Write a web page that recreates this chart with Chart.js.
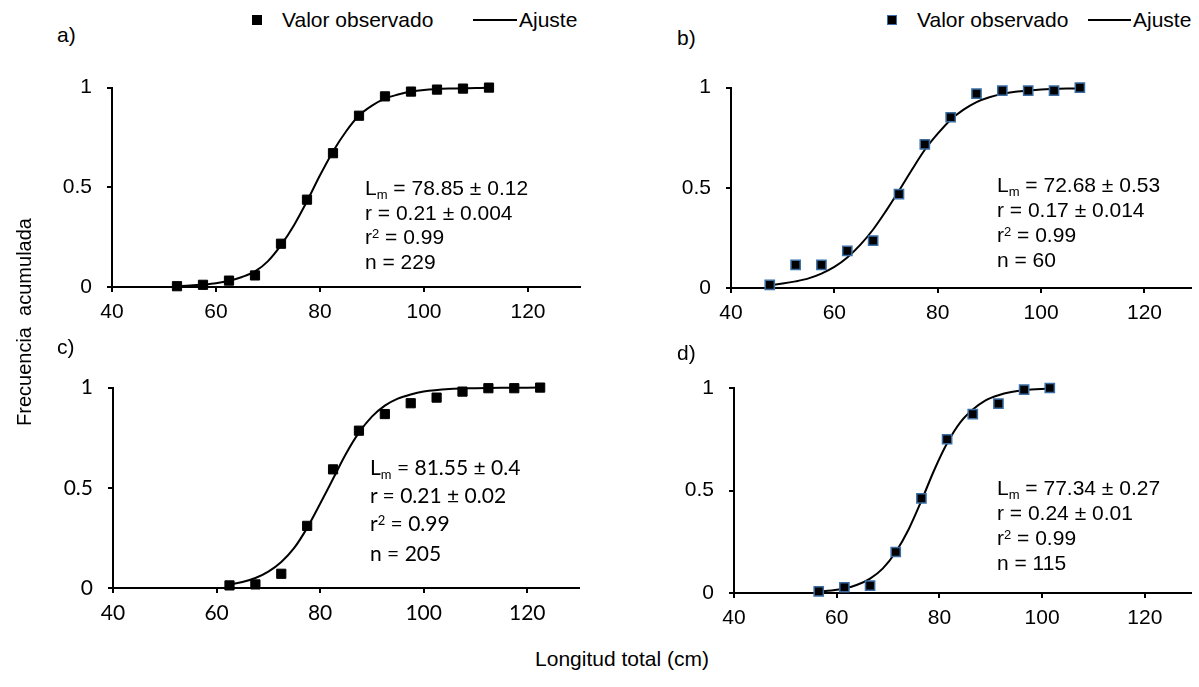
<!DOCTYPE html>
<html>
<head>
<meta charset="utf-8">
<script src="https://cdn.jsdelivr.net/npm/chart.js@4/dist/chart.umd.min.js"></script>
<style>
    body { margin: 0; background: #fff; }
    #fig { position: relative; width: 1199px; height: 687px; overflow: hidden; background: #fff;
           font-family: "Liberation Sans", Arial, sans-serif; font-size: 21px; color: #000; }
    #fig canvas { position: absolute; }
    .txt { position: absolute; white-space: pre; line-height: 24px; }
    .txt sub, .txt sup { font-size: 0.62em; line-height: 0; vertical-align: baseline; position: relative; }
    .txt sub { top: 0.3em; }
    .txt sup { top: -0.5em; }
    .sq { position: absolute; width: 10px; height: 10px; background: #000; box-sizing: border-box; }
    .sq.blue { border: 1.5px solid #3a6ea5; }
    .ln { position: absolute; height: 2px; background: #000; }
    .lato { font-family: Lato, sans-serif; }
</style>
</head>
<body>
<div id="fig">
    <canvas id="chartA" width="600" height="280" style="left:0px;top:60px"></canvas>
    <canvas id="chartB" width="599" height="280" style="left:600px;top:60px"></canvas>
    <canvas id="chartC" width="600" height="280" style="left:0px;top:360px"></canvas>
    <canvas id="chartD" width="599" height="280" style="left:600px;top:360px"></canvas>

    <!-- leyendas -->
    <div class="sq" style="left:252px;top:15px"></div>
    <div class="txt" style="left:282px;top:8px">Valor observado</div>
    <div class="ln" style="left:473px;top:19px;width:44px"></div>
    <div class="txt" style="left:519px;top:8px">Ajuste</div>

    <div class="sq blue" style="left:887px;top:15px"></div>
    <div class="txt" style="left:917px;top:8px">Valor observado</div>
    <div class="ln" style="left:1088px;top:19px;width:43px"></div>
    <div class="txt" style="left:1133px;top:8px">Ajuste</div>

    <!-- etiquetas de panel -->
    <div class="txt" style="left:57px;top:23px">a)</div>
    <div class="txt" style="left:677px;top:26px">b)</div>
    <div class="txt" style="left:57px;top:335px">c)</div>
    <div class="txt" style="left:677px;top:341px">d)</div>

    <!-- parametros del ajuste, a) -->
    <div class="txt" style="left:365px;top:176px">L<sub>m</sub> = 78.85 ± 0.12</div>
    <div class="txt" style="left:365px;top:201px">r = 0.21 ± 0.004</div>
    <div class="txt" style="left:365px;top:225px">r<sup>2</sup> = 0.99</div>
    <div class="txt" style="left:365px;top:250px">n = 229</div>
    <!-- b) -->
    <div class="txt" style="left:997px;top:173px">L<sub>m</sub> = 72.68 ± 0.53</div>
    <div class="txt" style="left:997px;top:198px">r = 0.17 ± 0.014</div>
    <div class="txt" style="left:997px;top:223px">r<sup>2</sup> = 0.99</div>
    <div class="txt" style="left:997px;top:248px">n = 60</div>
    <!-- c) -->
    <div class="txt lato" style="left:370px;top:455px">L<sub>m</sub> = 81.55 ± 0.4</div>
    <div class="txt lato" style="left:370px;top:483px">r = 0.21 ± 0.02</div>
    <div class="txt lato" style="left:370px;top:511px">r<sup>2</sup> = 0.99</div>
    <div class="txt lato" style="left:370px;top:541px">n = 205</div>
    <!-- d) -->
    <div class="txt" style="left:997px;top:476px">L<sub>m</sub> = 77.34 ± 0.27</div>
    <div class="txt" style="left:997px;top:501px">r = 0.24 ± 0.01</div>
    <div class="txt" style="left:997px;top:526px">r<sup>2</sup> = 0.99</div>
    <div class="txt" style="left:997px;top:551px">n = 115</div>

    <!-- titulos de ejes -->
    <div class="txt" style="left:24px;top:322px;font-size:20px;transform:translate(-50%,-50%) rotate(-90deg)">Frecuencia  acumulada</div>
    <div class="txt" style="left:622px;top:659px;transform:translate(-50%,-50%)">Longitud total (cm)</div>
</div>

<script>
// ejes
const xTicks = [40, 60, 80, 100, 120];
const yTicks = [0, 0.5, 1];

// a) valores observados y ajuste
const obsXA = [52.5, 57.5, 62.5, 67.5, 72.5, 77.5, 82.5, 87.5, 92.5, 97.5, 102.5, 107.5, 112.5];
const obsYA = [0.004, 0.011, 0.032, 0.058, 0.217, 0.438, 0.671, 0.859, 0.956, 0.98, 0.99, 0.995, 1.0];
const fitXA = [52.5, 55, 57.5, 60, 62.5, 65, 67.5, 70, 72.5, 75, 77.5, 80, 82.5, 85, 87.5, 90, 92.5, 95, 97.5, 100, 105, 112.5];
const fitYA = [0.004, 0.007, 0.012, 0.019, 0.031, 0.05, 0.078, 0.13, 0.21, 0.31, 0.43, 0.56, 0.68, 0.78, 0.86, 0.91, 0.945, 0.965, 0.98, 0.988, 0.995, 0.999];

// b)
const obsXB = [47.5, 52.5, 57.5, 62.5, 67.5, 72.5, 77.5, 82.5, 87.5, 92.5, 97.5, 102.5, 107.5];
const obsYB = [0.016, 0.115, 0.115, 0.185, 0.236, 0.468, 0.717, 0.852, 0.97, 0.985, 0.985, 0.985, 1.0];
const fitXB = [47.5, 50, 52.5, 55, 57.5, 60, 62.5, 65, 67.5, 70, 72.5, 75, 77.5, 80, 82.5, 85, 87.5, 90, 92.5, 95, 97.5, 100, 107.5];
const fitYB = [0.014, 0.022, 0.033, 0.048, 0.072, 0.105, 0.152, 0.215, 0.292, 0.385, 0.485, 0.59, 0.69, 0.77, 0.84, 0.89, 0.928, 0.952, 0.968, 0.979, 0.986, 0.991, 0.997];

// c)
const obsXC = [62.5, 67.5, 72.5, 77.5, 82.5, 87.5, 92.5, 97.5, 102.5, 107.5, 112.5, 117.5, 122.5];
const obsYC = [0.013, 0.018, 0.071, 0.31, 0.592, 0.785, 0.868, 0.922, 0.95, 0.98, 0.997, 0.997, 1.0];
const fitXC = [62.5, 65, 67.5, 70, 72.5, 75, 77.5, 80, 82.5, 85, 87.5, 90, 92.5, 95, 97.5, 100, 105, 110, 115, 122.5];
const fitYC = [0.018, 0.03, 0.05, 0.082, 0.13, 0.2, 0.3, 0.42, 0.545, 0.67, 0.775, 0.855, 0.91, 0.945, 0.966, 0.98, 0.993, 0.997, 0.999, 1.0];

// d)
const obsXD = [56.5, 61.5, 66.5, 71.5, 76.5, 81.5, 86.5, 91.5, 96.5, 101.5];
const obsYD = [0.008, 0.028, 0.036, 0.2, 0.462, 0.75, 0.873, 0.924, 0.992, 1.0];
const fitXD = [56.5, 59, 61.5, 64, 66.5, 69, 71.5, 74, 76.5, 79, 81.5, 84, 86.5, 89, 91.5, 94, 96.5, 101.5];
const fitYD = [0.007, 0.012, 0.022, 0.04, 0.07, 0.12, 0.2, 0.31, 0.45, 0.6, 0.73, 0.83, 0.895, 0.94, 0.965, 0.98, 0.989, 0.997];

Chart.defaults.font.family = "'Liberation Sans', Arial, sans-serif";
Chart.defaults.font.size = 21;
Chart.defaults.color = "#000";

function toPoints(xs, ys) {
    return xs.map((x, i) => ({ x: x, y: ys[i] }));
}

function makePanel(id, obsX, obsY, fitX, fitY, o) {
    const ctx = document.getElementById(id).getContext("2d");
    const font = { family: o.family, size: 21 };
    return new Chart(ctx, {
        type: "scatter",
        data: {
            datasets: [
                {
                    label: "Valor observado",
                    data: toPoints(obsX, obsY),
                    pointStyle: "rect",
                    pointRadius: 6.5,
                    backgroundColor: "#000",
                    borderColor: o.edge,
                    borderWidth: o.edgeWidth,
                    clip: false
                },
                {
                    label: "Ajuste",
                    data: toPoints(fitX, fitY),
                    showLine: true,
                    pointRadius: 0,
                    borderColor: "#000",
                    borderWidth: 2,
                    cubicInterpolationMode: "monotone",
                    clip: false
                }
            ]
        },
        options: {
            responsive: false,
            animation: false,
            events: [],
            layout: { padding: { left: 0, top: o.padTop, right: o.padRight, bottom: 0 } },
            plugins: { legend: { display: false }, tooltip: { enabled: false } },
            scales: {
                x: {
                    type: "linear",
                    min: 40,
                    max: o.xMax,
                    afterBuildTicks: axis => { axis.ticks = xTicks.map(v => ({ value: v })); },
                    afterFit: axis => { axis.height = o.xH; },
                    ticks: { font: font, padding: 8, maxRotation: 0, callback: v => String(v) },
                    grid: { drawOnChartArea: false, drawTicks: true, tickLength: 5, color: "#000", lineWidth: 2 },
                    border: { display: true, color: "#000", width: 2 }
                },
                y: {
                    type: "linear",
                    min: 0,
                    max: 1,
                    afterBuildTicks: axis => { axis.ticks = yTicks.map(v => ({ value: v })); },
                    afterFit: axis => { axis.width = o.yW; },
                    ticks: { font: font, padding: 15, callback: v => String(v) },
                    grid: { drawOnChartArea: false, drawTicks: true, tickLength: 5, color: "#000", lineWidth: 2 },
                    border: { display: true, color: "#000", width: 2 }
                }
            }
        }
    });
}

const arial = "'Liberation Sans', Arial, sans-serif";
const chartA = makePanel("chartA", obsXA, obsYA, fitXA, fitYA,
    { xMax: 130, padTop: 22, padRight: 20, yW: 112, xH: 53, edge: "#000", edgeWidth: 1, family: arial });
const chartB = makePanel("chartB", obsXB, obsYB, fitXB, fitYB,
    { xMax: 129, padTop: 26, padRight: 0, yW: 131, xH: 52, edge: "#3a6ea5", edgeWidth: 1.5, family: arial });
const chartC = makePanel("chartC", obsXC, obsYC, fitXC, fitYC,
    { xMax: 130, padTop: 26, padRight: 21, yW: 113, xH: 52, edge: "#000", edgeWidth: 1, family: "Lato, sans-serif" });
const chartD = makePanel("chartD", obsXD, obsYD, fitXD, fitYD,
    { xMax: 129, padTop: 28, padRight: 0, yW: 134, xH: 47, edge: "#3a6ea5", edgeWidth: 1.5, family: arial });
</script>
</body>
</html>
